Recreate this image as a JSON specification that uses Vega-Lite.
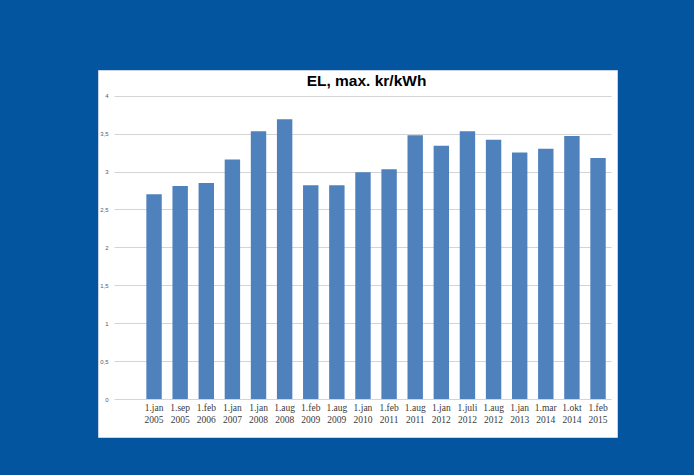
{
  "$schema": "https://vega.github.io/schema/vega-lite/v6.json",
  "width": 519,
  "height": 367,
  "autosize": {"type": "none"},
  "padding": {"left": 98, "top": 70, "right": 77, "bottom": 38},
  "background": "#03559f",
  "view": {"fill": "white", "stroke": "#c7d3e3", "strokeWidth": 1},
  "title": {
    "text": "EL, max. kr/kWh",
    "font": "Liberation Sans",
    "fontSize": 15.5,
    "fontWeight": "bold",
    "color": "#000000",
    "anchor": "middle",
    "baseline": "alphabetic",
    "offset": -31,
    "dx": 9
  },
  "data": {
    "values": [
      {"dato": "1.jan 2005", "pris": 2.70},
      {"dato": "1.sep 2005", "pris": 2.81},
      {"dato": "1.feb 2006", "pris": 2.85},
      {"dato": "1.jan 2007", "pris": 3.16},
      {"dato": "1.jan 2008", "pris": 3.53},
      {"dato": "1.aug 2008", "pris": 3.69},
      {"dato": "1.feb 2009", "pris": 2.82},
      {"dato": "1.aug 2009", "pris": 2.82},
      {"dato": "1.jan 2010", "pris": 2.99},
      {"dato": "1.feb 2011", "pris": 3.03},
      {"dato": "1.aug 2011", "pris": 3.48},
      {"dato": "1.jan 2012", "pris": 3.34},
      {"dato": "1.juli 2012", "pris": 3.53},
      {"dato": "1.aug 2012", "pris": 3.42},
      {"dato": "1.jan 2013", "pris": 3.25},
      {"dato": "1.mar 2014", "pris": 3.30},
      {"dato": "1.okt 2014", "pris": 3.47},
      {"dato": "1.feb 2015", "pris": 3.18}
    ]
  },
  "mark": {"type": "bar", "color": "#4f81bd"},
  "encoding": {
    "x": {
      "field": "dato",
      "type": "nominal",
      "sort": null,
      "scale": {"range": [16, 513], "paddingInner": 0.41, "paddingOuter": 0.72, "align": 0.86},
      "axis": {
        "title": null,
        "labelAngle": 0,
        "ticks": false,
        "domain": false,
        "grid": false,
        "offset": -38,
        "labelPadding": 3,
        "labelFont": "Liberation Serif",
        "labelFontSize": 9.5,
        "labelLineHeight": 12,
        "labelColor": "#3a3a3a",
        "labelExpr": "split(datum.label, ' ')"
      }
    },
    "y": {
      "field": "pris",
      "type": "quantitative",
      "scale": {"domain": [0, 4], "range": [329, 25.7], "nice": false, "zero": true},
      "axis": {
        "title": null,
        "values": [0, 0.5, 1, 1.5, 2, 2.5, 3, 3.5, 4],
        "ticks": false,
        "domain": false,
        "grid": true,
        "gridColor": "#d4d4d4",
        "gridWidth": 1,
        "offset": -12,
        "labelPadding": 2,
        "labelFont": "Liberation Sans",
        "labelFontSize": 6,
        "labelColor": "#595959",
        "labelExpr": "replace(format(datum.value, '~g'), '.', ',')"
      }
    }
  }
}
